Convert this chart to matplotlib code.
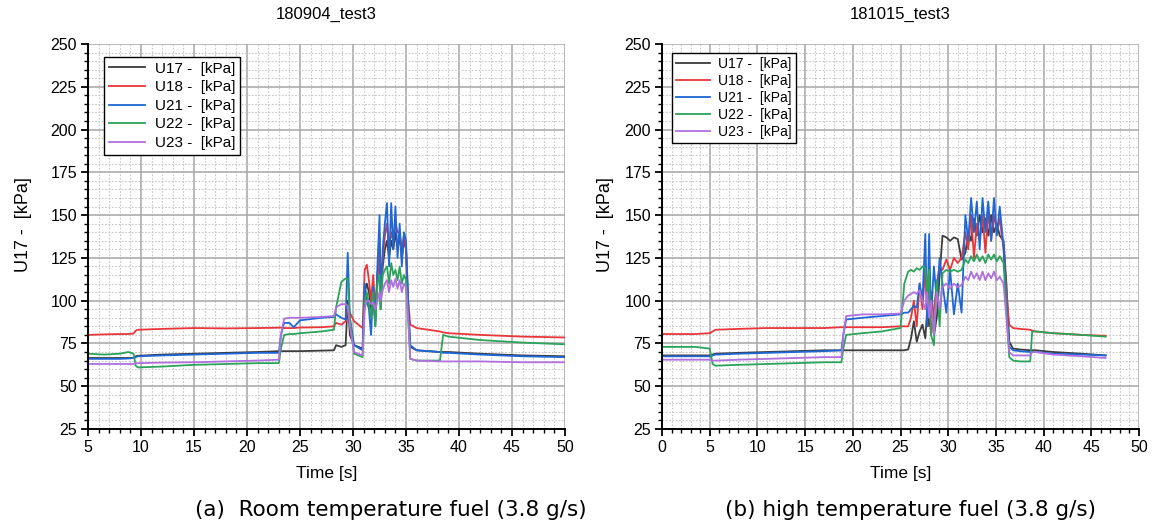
import matplotlib
matplotlib.use("Agg")
import matplotlib.pyplot as plt
from matplotlib.ticker import MultipleLocator

# ---- panel (a): 180904_test3 ----
t_a = [5.0, 6.5, 8.0, 8.8, 9.3, 9.5, 9.7, 12, 15, 18,
       21, 23.0, 23.2, 23.5, 24.0, 24.4, 25.0, 27.0, 28.2, 28.4,
       28.9, 29.3, 29.5, 29.7, 30.1, 30.9, 31.1, 31.3, 31.5, 31.7,
       31.9, 32.1, 32.3, 32.5, 32.6, 32.8, 33.0, 33.2, 33.4, 33.6,
       33.8, 34.0, 34.2, 34.4, 34.6, 34.8, 35.0, 35.2, 35.4, 36.0,
       38.2, 38.5, 39.0, 42, 46, 50]
u17_a = [66.5, 66.5, 66.5, 66.5, 66.5, 67.5, 67.8, 68.5, 69, 69.5,
         70, 70.5, 70.5, 70.5, 70.5, 70.5, 70.5, 70.8, 71, 74,
         73, 74, 100, 80, 74, 72, 105, 110, 105, 95,
         100, 88, 115, 130, 95, 120, 130, 135, 125, 135,
         130, 140, 130, 138, 125, 135, 130, 95, 73, 71,
         70, 70, 70, 69, 68, 67.5]
u18_a = [80, 80.3, 80.5, 80.5, 80.8, 82.5, 83, 83.5, 84, 83.8,
         84, 84.2, 84.3, 84, 84, 84, 84.3, 84.5, 85, 87,
         86, 88, 96, 93, 88, 84, 118, 121, 112, 100,
         115, 95, 110, 140, 105, 125, 138, 145, 130, 140,
         135, 145, 140, 140, 130, 138, 130, 100, 86, 84,
         82, 81.5, 81, 80, 79, 78.5]
u21_a = [66, 66, 66, 66.2, 66.5, 67, 67.5, 68, 68.5, 69,
         69.5, 69.5, 80, 87, 87, 84.5, 88.5, 90, 90.5, 92,
         90, 89, 128, 90, 74, 71, 110, 100, 95, 80,
         108, 85, 120, 150, 100, 130, 145, 157, 120, 157,
         130, 155, 125, 145, 120, 140, 135, 100, 74, 71,
         70, 69.5, 69.5, 68.5, 67.5, 67]
u22_a = [69, 68.5, 69, 70, 69, 62, 61, 61.5, 62.5, 63,
         63.5, 63.5, 72, 80, 80.5, 80.5, 81, 82, 83, 96,
         111, 113, 113, 90, 69, 67, 100, 105, 98, 90,
         105, 85, 110, 115, 95, 115, 118, 120, 110, 122,
         115, 118, 112, 120, 110, 115, 112, 90, 66, 65,
         65, 80, 79, 77, 75.5, 74.5]
u23_a = [63, 63, 63, 63, 63, 63.5, 63.5, 63.8, 64, 64.5,
         65, 65.5, 80, 89.5, 90, 90, 90, 90.5, 91, 96,
         98, 98, 97, 85, 70, 68, 95, 100, 100, 98,
         99, 95, 100, 105, 100, 106, 110, 112, 105, 112,
         108, 113, 107, 112, 105, 110, 108, 90, 66, 65,
         64.5, 64.5, 64.5, 64.5, 64, 64]

# ---- panel (b): 181015_test3 ----
t_b = [0, 2, 3.5, 5.0, 5.3, 5.6, 8, 11, 14, 17,
       18.8, 19.0, 19.3, 21, 23, 25.0, 25.4, 25.8, 26.1, 26.4,
       26.7, 27.0, 27.3, 27.6, 27.8, 28.0, 28.2, 28.5, 28.8, 29.1,
       29.4, 29.8, 30.2, 30.6, 31.0, 31.4, 31.8, 32.1, 32.4, 32.7,
       33.0, 33.3, 33.6, 33.9, 34.2, 34.5, 34.8, 35.1, 35.4, 35.8,
       36.1, 36.4, 36.8, 37.5, 38.6, 38.8, 39.2, 41, 44, 46.5]
u17_b = [68, 68, 68, 68, 68.5, 69, 69.5, 70, 70.5, 71,
         71, 71, 71, 71, 71, 71, 71, 71.5, 78, 88,
         76, 82, 86, 78, 95, 85, 105, 80, 90, 115,
         138, 137, 135, 137, 136, 124, 128, 140, 135, 148,
         138, 150, 140, 148, 138, 150, 140, 145, 138, 135,
         110, 76, 72, 71.5, 71, 71, 71, 70, 69, 68]
u18_b = [80.5, 80.5, 80.5, 81, 82, 83, 83.5, 84, 84, 84,
         84.5, 84.5, 84.5, 84.5, 84.5, 85, 85, 85, 90, 100,
         85, 110, 95, 120, 90, 105, 80, 95, 110, 120,
         118, 124, 118, 125, 122, 125, 140, 130, 150, 125,
         145, 135, 150, 128, 152, 135, 150, 140, 148, 130,
         105, 86, 84, 83.5, 83, 82.5, 82, 81, 80, 79.5]
u21_b = [67.5, 67.5, 67.5, 67.5, 68, 68.5, 69, 69.5, 70, 70.5,
         71, 80, 89, 90, 91, 92, 93, 93, 95, 97,
         96, 110, 100, 139, 85, 139, 90, 120, 100, 125,
         110, 93, 118, 92, 110, 93, 150, 135, 160, 140,
         158, 130, 160, 140, 158, 135, 160, 138, 155, 132,
         100, 73, 71, 70.5, 70, 70, 70, 69, 68.5, 68]
u22_b = [73, 73, 73, 72, 63, 62, 62.5, 63, 63.5, 64,
         64, 72, 80, 81, 82, 84, 110, 117, 118, 117,
         119, 118, 120, 119, 105, 118, 80, 74, 112, 85,
         116, 118, 117, 118, 117, 118, 124, 122, 126, 123,
         127, 123, 126, 122, 127, 124, 127, 123, 126, 122,
         95, 67, 65, 64.5, 64.5, 82, 82, 81, 80, 79]
u23_b = [65.5, 65.5, 65.5, 65.5, 65, 65, 65.5, 66, 66.5, 67,
         67, 80, 91, 92, 92, 92.5, 100, 103, 104, 105,
         104, 106, 100, 95, 105, 90, 100, 80, 105, 95,
         108, 110, 107, 110, 108, 109, 114, 112, 117, 113,
         116, 112, 117, 112, 116, 113, 117, 112, 114, 110,
         90, 70, 68, 68, 68, 70, 70, 68.5, 67.5, 66.5]

labels = ["U17 -  [kPa]", "U18 -  [kPa]", "U21 -  [kPa]", "U22 -  [kPa]", "U23 -  [kPa]"]
colors = ["#3c3c3c", "#e8363a", "#1f66d6", "#2ba35a", "#b070e0"]

AX_FONT = "Liberation Sans"
CAP_FONT = "DejaVu Sans"


def style_axes(ax, xlim, title, ylabel_x):
    ax.set_xlim(*xlim)
    ax.set_ylim(25, 250)
    ax.xaxis.set_major_locator(MultipleLocator(5))
    ax.xaxis.set_minor_locator(MultipleLocator(1))
    ax.yaxis.set_major_locator(MultipleLocator(25))
    ax.yaxis.set_minor_locator(MultipleLocator(5))
    ax.grid(True, which="major", color="#a6a6a6", linewidth=1.1, linestyle="-")
    ax.grid(True, which="minor", color="#c8c8c8", linewidth=0.8, linestyle=(0, (1.5, 1.5)))
    ax.set_axisbelow(True)
    for s in ["top", "right"]:
        ax.spines[s].set_visible(False)
    for s in ["left", "bottom"]:
        ax.spines[s].set_linewidth(1.4)
        ax.spines[s].set_color("black")
    ax.tick_params(which="major", direction="out", length=5, width=1.3,
                   labelsize=11.5, pad=3)
    ax.tick_params(which="minor", direction="out", length=3, width=1.0)
    for lab in ax.get_xticklabels() + ax.get_yticklabels():
        lab.set_family(AX_FONT)
    ax.set_xlabel("Time [s]", fontsize=12.5, family=AX_FONT, labelpad=8)
    ax.set_ylabel("U17 -  [kPa]", fontsize=13, family=AX_FONT)
    ax.yaxis.set_label_coords(ylabel_x, 0.53)
    ax.set_title(title, fontsize=12, family=AX_FONT, pad=18)


fig = plt.figure(figsize=(11.52, 5.26), dpi=100)
fig.patch.set_facecolor("white")
ax_a = fig.add_axes([0.0764, 0.1844, 0.4141, 0.7319])
ax_b = fig.add_axes([0.5747, 0.1844, 0.4140, 0.7319])

series_a = [u17_a, u18_a, u21_a, u22_a, u23_a]
series_b = [u17_b, u18_b, u21_b, u22_b, u23_b]

panels = [
    (ax_a, t_a, series_a, (5, 50), "180904_test3", (0.034, 0.966), 11, 0.3, -0.117),
    (ax_b, t_b, series_b, (0, 50), "181015_test3", (0.021, 0.977), 10, 0.22, -0.101),
]
for ax, t, series, xlim, title, anchor, lsize, lspace, ylx in panels:
    for vals, lab, col in zip(series, labels, colors):
        ax.plot(t, vals, color=col, linewidth=1.3, label=lab)
    style_axes(ax, xlim, title, ylx)
    leg = ax.legend(loc="upper left", bbox_to_anchor=anchor, borderaxespad=0,
                    fancybox=False, framealpha=1, edgecolor="black",
                    prop={"family": AX_FONT, "size": lsize}, handlelength=2.4,
                    handletextpad=0.6, labelspacing=lspace, borderpad=0.3)
    leg.get_frame().set_linewidth(1.0)

fig.text(0.339, 0.03, "(a)  Room temperature fuel (3.8 g/s)", ha="center",
         va="center", fontsize=15.5, family=CAP_FONT)
fig.text(0.79, 0.03, "(b) high temperature fuel (3.8 g/s)", ha="center",
         va="center", fontsize=15.5, family=CAP_FONT)

fig.savefig("out.png", dpi=100, facecolor="white")
plt.close(fig)
